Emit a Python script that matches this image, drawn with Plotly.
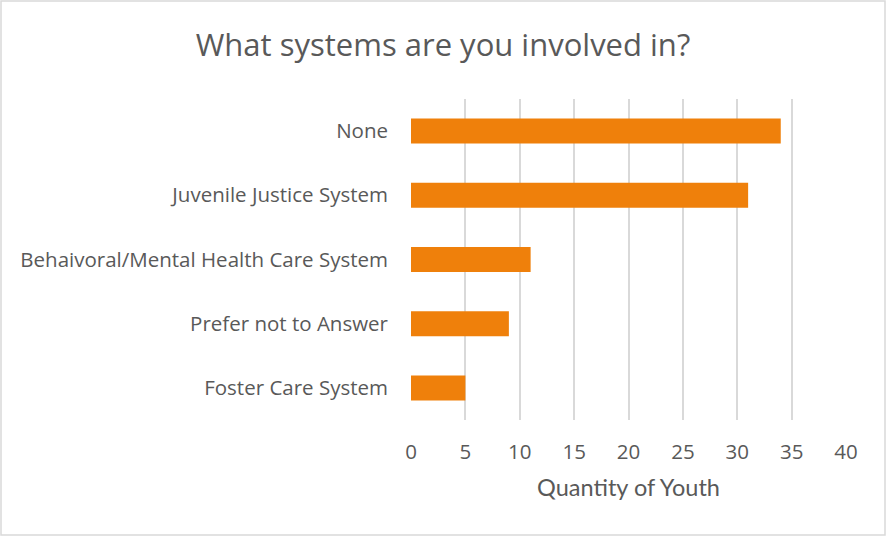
import plotly.graph_objects as go

# Survey responses, listed bottom to top as drawn
categories = [
    "Foster Care System",
    "Prefer not to Answer",
    "Behaivoral/Mental Health Care System",
    "Juvenile Justice System",
    "None",
]
counts = [5, 9, 11, 31, 34]
x_ticks = [0, 5, 10, 15, 20, 25, 30, 35, 40]

text_color = "#595959"
grid_color = "#d9d9d9"
bar_color = "#ef800b"

fig = go.Figure(
    go.Bar(
        x=counts,
        y=categories,
        orientation="h",
        marker=dict(color=bar_color, line=dict(width=0)),
        width=0.39,
    )
)

fig.update_layout(
    width=886,
    height=537,
    margin=dict(l=411, r=40, t=99, b=117),
    paper_bgcolor="white",
    plot_bgcolor="white",
    showlegend=False,
    title=dict(
        text="What systems are you involved in?",
        x=0.5,
        xref="container",
        xanchor="center",
        y=1 - 45 / 537,
        yanchor="middle",
        font=dict(family="Open Sans, sans-serif", size=31, color=text_color),
    ),
    font=dict(family="Open Sans, sans-serif", color=text_color),
    shapes=[
        dict(
            type="rect",
            xref="paper",
            yref="paper",
            x0=(1 - 411) / 435,
            x1=(885 - 411) / 435,
            y0=(420 - 535) / 321,
            y1=(420 - 1) / 321,
            line=dict(color="#d9d9d9", width=1.5),
            fillcolor="rgba(0,0,0,0)",
            layer="below",
        )
    ],
)

fig.update_xaxes(
    range=[0, 40],
    tickvals=x_ticks,
    ticktext=[str(v) for v in x_ticks],
    showgrid=True,
    gridcolor=grid_color,
    gridwidth=1.5,
    zeroline=False,
    showline=False,
    ticks="",
    tickfont=dict(family="Open Sans, sans-serif", size=20.5, color=text_color),
    ticklabelstandoff=17,
    title=dict(text="Quantity of Youth",
               font=dict(family="Lato, sans-serif", size=23.5, color=text_color),
               standoff=16),
)

fig.update_yaxes(
    categoryorder="array",
    categoryarray=categories,
    showgrid=False,
    zeroline=False,
    showline=False,
    ticks="",
    tickfont=dict(family="Open Sans, sans-serif", size=20.5, color=text_color),
    ticklabelstandoff=22,
)

fig.write_html("out.html")
